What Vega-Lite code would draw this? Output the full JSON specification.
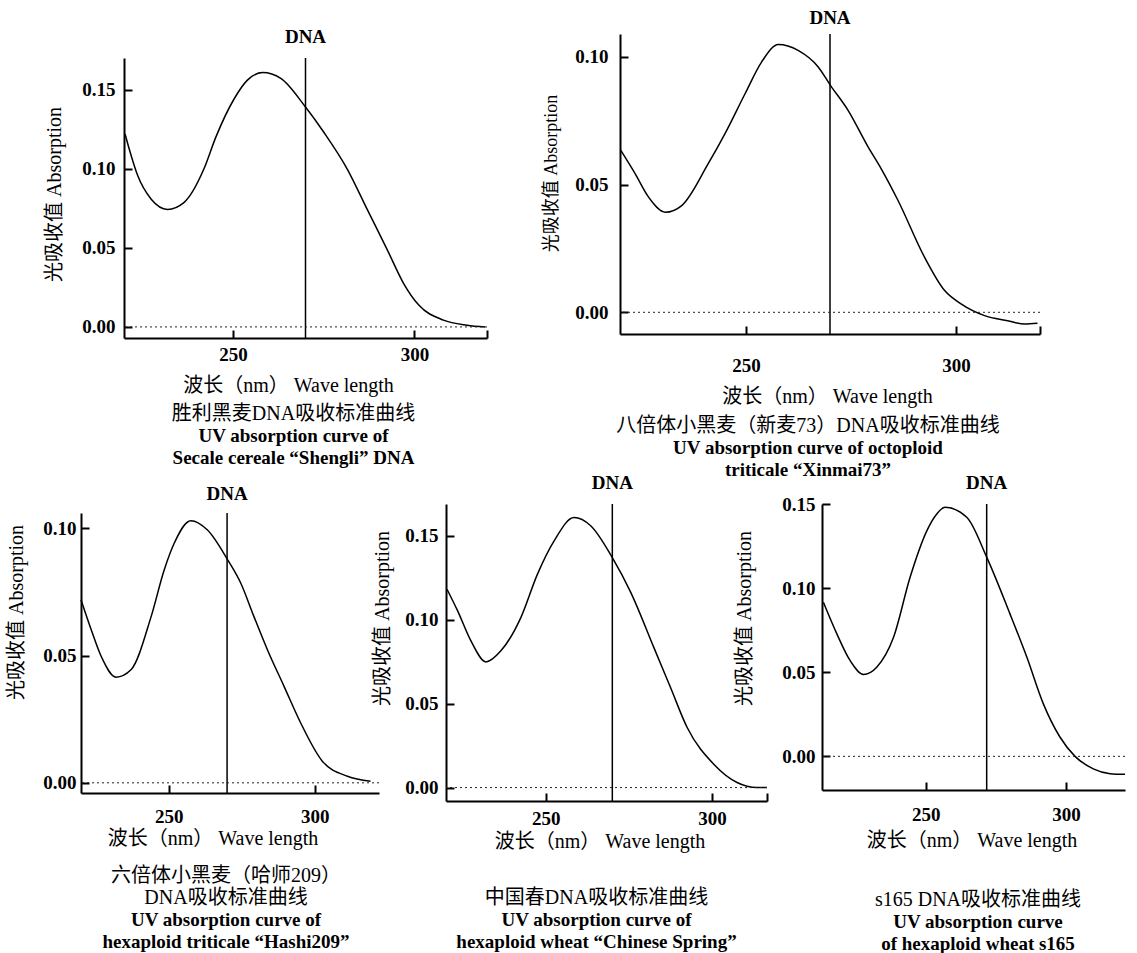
{
  "$schema": "https://vega.github.io/schema/vega-lite/v6.json",
  "padding": {"left": 5, "top": 9, "right": 5, "bottom": 0},
  "background": "white",
  "config": {
    "view": {"stroke": null},
    "font": "Liberation Serif, Noto Sans CJK SC, serif",
    "axis": {
      "grid": false, "domainColor": "#000", "domainWidth": 2, "tickColor": "#000", "tickWidth": 2, "tickSize": -8,
      "labelColor": "#000", "labelFontSize": 19, "labelFontWeight": "bold", "labelFont": "Liberation Serif, Noto Sans CJK SC, serif",
      "titleColor": "#000", "titleFontSize": 20, "titleFontWeight": "normal", "titleFont": "Liberation Serif, Noto Sans CJK SC, serif",
      "labelOverlap": false, "labelFlush": false, "titleBaseline": "middle", "titleAlign": "center"
    },
    "title": {
      "orient": "bottom", "anchor": "middle", "frame": "group", "baseline": "top",
      "font": "Liberation Serif, Noto Sans CJK SC, serif", "fontSize": 20, "fontWeight": "normal", "color": "#000", "lineHeight": 22,
      "subtitleFont": "Liberation Serif, Noto Sans CJK SC, serif", "subtitleFontSize": 19, "subtitleFontWeight": "bold", "subtitleColor": "#000", "subtitleLineHeight": 22, "subtitlePadding": 3
    },
    "text": {"font": "Liberation Serif, Noto Sans CJK SC, serif"}
  },
  "datasets": {
    "p1": [
      {"nm": 220.3, "A": 0.122}, {"nm": 221.5, "A": 0.112}, {"nm": 223.8, "A": 0.0955}, {"nm": 227.5, "A": 0.0807}, {"nm": 232, "A": 0.0743},
      {"nm": 236.5, "A": 0.0786}, {"nm": 242, "A": 0.0998}, {"nm": 245.3, "A": 0.12}, {"nm": 250.4, "A": 0.1444}, {"nm": 254, "A": 0.156},
      {"nm": 258.2, "A": 0.1608}, {"nm": 263.2, "A": 0.1571}, {"nm": 270, "A": 0.139}, {"nm": 275, "A": 0.1232}, {"nm": 281.5, "A": 0.0998},
      {"nm": 287, "A": 0.0743}, {"nm": 292.5, "A": 0.0489}, {"nm": 297, "A": 0.0276}, {"nm": 301.2, "A": 0.0138}, {"nm": 308, "A": 0.0043},
      {"nm": 314.5, "A": 0.0011}, {"nm": 319.5, "A": 0.0}
    ],
    "p2": [
      {"nm": 220.2, "A": 0.0634}, {"nm": 223.6, "A": 0.0543}, {"nm": 226.8, "A": 0.0451}, {"nm": 230.8, "A": 0.0392}, {"nm": 234.7, "A": 0.0418},
      {"nm": 241, "A": 0.0582}, {"nm": 245, "A": 0.07}, {"nm": 249.8, "A": 0.0857}, {"nm": 253.7, "A": 0.098}, {"nm": 257.7, "A": 0.1049},
      {"nm": 262.4, "A": 0.1026}, {"nm": 267.2, "A": 0.0961}, {"nm": 270.1, "A": 0.0889}, {"nm": 274.3, "A": 0.0791}, {"nm": 279.1, "A": 0.0647},
      {"nm": 282.2, "A": 0.0562}, {"nm": 286.2, "A": 0.0438}, {"nm": 292.5, "A": 0.0216}, {"nm": 297.3, "A": 0.0085}, {"nm": 301.2, "A": 0.0033},
      {"nm": 306.8, "A": -0.0013}, {"nm": 312.3, "A": -0.0033}, {"nm": 316.3, "A": -0.0046}, {"nm": 319.4, "A": -0.0043}
    ],
    "p3": [
      {"nm": 220, "A": 0.0719}, {"nm": 223.5, "A": 0.0601}, {"nm": 226.9, "A": 0.0497}, {"nm": 232, "A": 0.0415}, {"nm": 237.1, "A": 0.0444},
      {"nm": 244, "A": 0.0653}, {"nm": 248.5, "A": 0.0837}, {"nm": 251.9, "A": 0.0941}, {"nm": 257.6, "A": 0.103}, {"nm": 263.3, "A": 0.0993},
      {"nm": 270.2, "A": 0.0876}, {"nm": 274.7, "A": 0.0784}, {"nm": 279.2, "A": 0.0653}, {"nm": 283.8, "A": 0.0523}, {"nm": 289.5, "A": 0.0379},
      {"nm": 295.2, "A": 0.0235}, {"nm": 302.6, "A": 0.0085}, {"nm": 311.2, "A": 0.0026}, {"nm": 319.1, "A": 0.0006}
    ],
    "p4": [
      {"nm": 220.3, "A": 0.1182}, {"nm": 223.5, "A": 0.1053}, {"nm": 227.5, "A": 0.0874}, {"nm": 232, "A": 0.0749}, {"nm": 236.5, "A": 0.0815},
      {"nm": 242.5, "A": 0.1013}, {"nm": 247.5, "A": 0.1272}, {"nm": 252.5, "A": 0.147}, {"nm": 258.5, "A": 0.1609}, {"nm": 263.5, "A": 0.156},
      {"nm": 270, "A": 0.137}, {"nm": 275.5, "A": 0.1165}, {"nm": 282.5, "A": 0.0834}, {"nm": 287.5, "A": 0.0596}, {"nm": 292.5, "A": 0.0358},
      {"nm": 300.5, "A": 0.0139}, {"nm": 307.5, "A": 0.003}, {"nm": 313.5, "A": 0.0}, {"nm": 316.5, "A": 0.0}
    ],
    "p5": [
      {"nm": 213.5, "A": 0.0916}, {"nm": 218.3, "A": 0.0728}, {"nm": 223, "A": 0.057}, {"nm": 227.8, "A": 0.0487}, {"nm": 232.5, "A": 0.053},
      {"nm": 238.5, "A": 0.0708}, {"nm": 244.4, "A": 0.1065}, {"nm": 250.4, "A": 0.1342}, {"nm": 253.9, "A": 0.1441}, {"nm": 256.9, "A": 0.148},
      {"nm": 264.6, "A": 0.1421}, {"nm": 271.7, "A": 0.1184}, {"nm": 280, "A": 0.0847}, {"nm": 286, "A": 0.059}, {"nm": 291.9, "A": 0.0312},
      {"nm": 297.8, "A": 0.0115}, {"nm": 303.2, "A": 0.0}, {"nm": 309.7, "A": -0.0074}, {"nm": 315.7, "A": -0.0103}, {"nm": 321, "A": -0.0107}
    ]
  },
  "spacing": -6,
  "vconcat": [
    {
      "spacing": 53,
      "hconcat": [
        {
          "spacing": -7,
          "vconcat": [
            {"width": 1, "height": 1, "data": {"values": []}, "mark": {"type": "point", "opacity": 0}},
            {
              "spacing": -39,
              "hconcat": [
                {"width": 1, "height": 1, "data": {"values": []}, "mark": {"type": "point", "opacity": 0}},
                {
                  "width": 363, "height": 280,
                  "title": {"text": "胜利黑麦DNA吸收标准曲线", "subtitle": ["UV absorption curve of", "Secale cereale “Shengli” DNA"], "dx": -12, "offset": 9},
                  "layer": [
                    {
                      "data": {"name": "p1"},
                      "mark": {"type": "line", "interpolate": "monotone", "color": "#000", "strokeWidth": 1.5},
                      "encoding": {
                        "x": {"field": "nm", "type": "quantitative", "scale": {"domain": [220, 320], "nice": false, "zero": false},
                          "axis": {"values": [250, 300, 320], "labelExpr": "datum.value > 310 ? '' : datum.label", "title": "波长（nm） Wave length", "titleX": 164, "titleY": 47, "labelPadding": 15}},
                        "y": {"field": "A", "type": "quantitative", "scale": {"domain": [-0.007, 0.17], "nice": false, "zero": false},
                          "axis": {"values": [0, 0.05, 0.1, 0.15], "format": ".2f", "title": "光吸收值 Absorption", "titleX": -70, "titleY": 136, "labelPadding": 17}}
                      }
                    },
                    {"data": {"values": [{"nm": 270}]}, "mark": {"type": "rule", "color": "#000", "strokeWidth": 1.5}, "encoding": {"x": {"field": "nm", "type": "quantitative"}}},
                    {"data": {"values": [{"A": 0}]}, "mark": {"type": "rule", "color": "#222", "strokeWidth": 1, "strokeDash": [2, 3]}, "encoding": {"y": {"field": "A", "type": "quantitative"}}},
                    {"data": {"values": [{"nm": 270, "label": "DNA"}]}, "mark": {"type": "text", "fontSize": 19, "fontWeight": "bold", "color": "#000", "baseline": "alphabetic", "dy": -15},
                      "encoding": {"x": {"field": "nm", "type": "quantitative"}, "y": {"datum": 0.17}, "text": {"field": "label"}}}
                  ]
                }
              ]
            }
          ]
        },
        {
          "width": 420, "height": 300,
          "title": {"text": "八倍体小黑麦（新麦73）DNA吸收标准曲线", "subtitle": ["UV absorption curve of octoploid", "triticale “Xinmai73”"], "dx": -22, "offset": 10},
          "layer": [
            {
              "data": {"name": "p2"},
              "mark": {"type": "line", "interpolate": "monotone", "color": "#000", "strokeWidth": 1.5},
              "encoding": {
                "x": {"field": "nm", "type": "quantitative", "scale": {"domain": [220, 320], "nice": false, "zero": false},
                  "axis": {"values": [250, 300, 320], "labelExpr": "datum.value > 310 ? '' : datum.label", "title": "波长（nm） Wave length", "titleX": 207, "titleY": 62, "labelPadding": 30}},
                "y": {"field": "A", "type": "quantitative", "scale": {"domain": [-0.0085, 0.109], "nice": false, "zero": false},
                  "axis": {"values": [0, 0.05, 0.1], "format": ".2f", "title": "光吸收值 Absorption", "titleFontSize": 18, "titleX": -69, "titleY": 139, "labelPadding": 20}}
              }
            },
            {"data": {"values": [{"nm": 270}]}, "mark": {"type": "rule", "color": "#000", "strokeWidth": 1.5}, "encoding": {"x": {"field": "nm", "type": "quantitative"}}},
            {"data": {"values": [{"A": 0}]}, "mark": {"type": "rule", "color": "#222", "strokeWidth": 1, "strokeDash": [2, 3]}, "encoding": {"y": {"field": "A", "type": "quantitative"}}},
            {"data": {"values": [{"nm": 270, "label": "DNA"}]}, "mark": {"type": "text", "fontSize": 19, "fontWeight": "bold", "color": "#000", "baseline": "alphabetic", "dy": -10},
              "encoding": {"x": {"field": "nm", "type": "quantitative"}, "y": {"datum": 0.109}, "text": {"field": "label"}}}
          ]
        }
      ]
    },
    {
      "spacing": -9,
      "hconcat": [
        {
          "spacing": -20,
          "vconcat": [
            {"width": 1, "height": 1, "data": {"values": []}, "mark": {"type": "point", "opacity": 0}},
            {
              "width": 298, "height": 280,
              "title": {"text": ["六倍体小黑麦（哈师209）", "DNA吸收标准曲线"], "subtitle": ["UV absorption curve of", "hexaploid triticale “Hashi209”"], "dx": -4, "offset": 18},
              "layer": [
                {
                  "data": {"name": "p3"},
                  "mark": {"type": "line", "interpolate": "monotone", "color": "#000", "strokeWidth": 1.5},
                  "encoding": {
                    "x": {"field": "nm", "type": "quantitative", "scale": {"domain": [220, 322], "nice": false, "zero": false},
                      "axis": {"values": [250, 300], "title": "波长（nm） Wave length", "titleX": 131.5, "titleY": 45, "labelPadding": 22}},
                    "y": {"field": "A", "type": "quantitative", "scale": {"domain": [-0.004, 0.106], "nice": false, "zero": false},
                      "axis": {"values": [0, 0.05, 0.1], "format": ".2f", "title": "光吸收值 Absorption", "titleX": -65, "titleY": 99, "labelPadding": 13}}
                  }
                },
                {"data": {"values": [{"nm": 270}]}, "mark": {"type": "rule", "color": "#000", "strokeWidth": 1.5}, "encoding": {"x": {"field": "nm", "type": "quantitative"}}},
                {"data": {"values": [{"A": 0}]}, "mark": {"type": "rule", "color": "#222", "strokeWidth": 1, "strokeDash": [2, 3]}, "encoding": {"y": {"field": "A", "type": "quantitative"}}},
                {"data": {"values": [{"nm": 270, "label": "DNA"}]}, "mark": {"type": "text", "fontSize": 19, "fontWeight": "bold", "color": "#000", "baseline": "alphabetic", "dy": -13},
                  "encoding": {"x": {"field": "nm", "type": "quantitative"}, "y": {"datum": 0.106}, "text": {"field": "label"}}}
              ]
            }
          ]
        },
        {
          "spacing": -37,
          "hconcat": [
            {
              "width": 321, "height": 297,
              "title": {"text": "中国春DNA吸收标准曲线", "subtitle": ["UV absorption curve of", "hexaploid wheat “Chinese Spring”"], "dx": -10, "offset": 37},
              "layer": [
                {
                  "data": {"name": "p4"},
                  "mark": {"type": "line", "interpolate": "monotone", "color": "#000", "strokeWidth": 1.5},
                  "encoding": {
                    "x": {"field": "nm", "type": "quantitative", "scale": {"domain": [220, 316.5], "nice": false, "zero": false},
                      "axis": {"values": [250, 300, 316.5], "labelExpr": "datum.value > 310 ? '' : datum.label", "title": "波长（nm） Wave length", "titleX": 153.5, "titleY": 40, "labelPadding": 16}},
                    "y": {"field": "A", "type": "quantitative", "scale": {"domain": [-0.008, 0.169], "nice": false, "zero": false},
                      "axis": {"values": [0, 0.05, 0.1, 0.15], "format": ".2f", "title": "光吸收值 Absorption", "titleX": -64, "titleY": 114, "labelPadding": 16}}
                  }
                },
                {"data": {"values": [{"nm": 270}]}, "mark": {"type": "rule", "color": "#000", "strokeWidth": 1.5}, "encoding": {"x": {"field": "nm", "type": "quantitative"}}},
                {"data": {"values": [{"A": 0}]}, "mark": {"type": "rule", "color": "#222", "strokeWidth": 1, "strokeDash": [2, 3]}, "encoding": {"y": {"field": "A", "type": "quantitative"}}},
                {"data": {"values": [{"nm": 270, "label": "DNA"}]}, "mark": {"type": "text", "fontSize": 19, "fontWeight": "bold", "color": "#000", "baseline": "alphabetic", "dy": -15},
                  "encoding": {"x": {"field": "nm", "type": "quantitative"}, "y": {"datum": 0.169}, "text": {"field": "label"}}}
              ]
            },
            {
              "width": 303, "height": 286,
              "title": {"text": "s165 DNA吸收标准曲线", "subtitle": ["UV absorption curve", "of hexaploid wheat s165"], "dx": 4.5, "offset": 40},
              "layer": [
                {
                  "data": {"name": "p5"},
                  "mark": {"type": "line", "interpolate": "monotone", "color": "#000", "strokeWidth": 1.5},
                  "encoding": {
                    "x": {"field": "nm", "type": "quantitative", "scale": {"domain": [213, 321], "nice": false, "zero": false},
                      "axis": {"values": [250, 300], "title": "波长（nm） Wave length", "titleX": 149.5, "titleY": 50, "labelPadding": 23}},
                    "y": {"field": "A", "type": "quantitative", "scale": {"domain": [-0.02, 0.15], "nice": false, "zero": false},
                      "axis": {"values": [0, 0.05, 0.1, 0.15], "format": ".2f", "title": "光吸收值 Absorption", "titleX": -78, "titleY": 114, "labelPadding": 15}}
                  }
                },
                {"data": {"values": [{"nm": 271.7}]}, "mark": {"type": "rule", "color": "#000", "strokeWidth": 1.5}, "encoding": {"x": {"field": "nm", "type": "quantitative"}}},
                {"data": {"values": [{"A": 0}]}, "mark": {"type": "rule", "color": "#222", "strokeWidth": 1, "strokeDash": [2, 3]}, "encoding": {"y": {"field": "A", "type": "quantitative"}}},
                {"data": {"values": [{"nm": 271.7, "label": "DNA"}]}, "mark": {"type": "text", "fontSize": 19, "fontWeight": "bold", "color": "#000", "baseline": "alphabetic", "dy": -15},
                  "encoding": {"x": {"field": "nm", "type": "quantitative"}, "y": {"datum": 0.15}, "text": {"field": "label"}}}
              ]
            }
          ]
        }
      ]
    }
  ]
}
